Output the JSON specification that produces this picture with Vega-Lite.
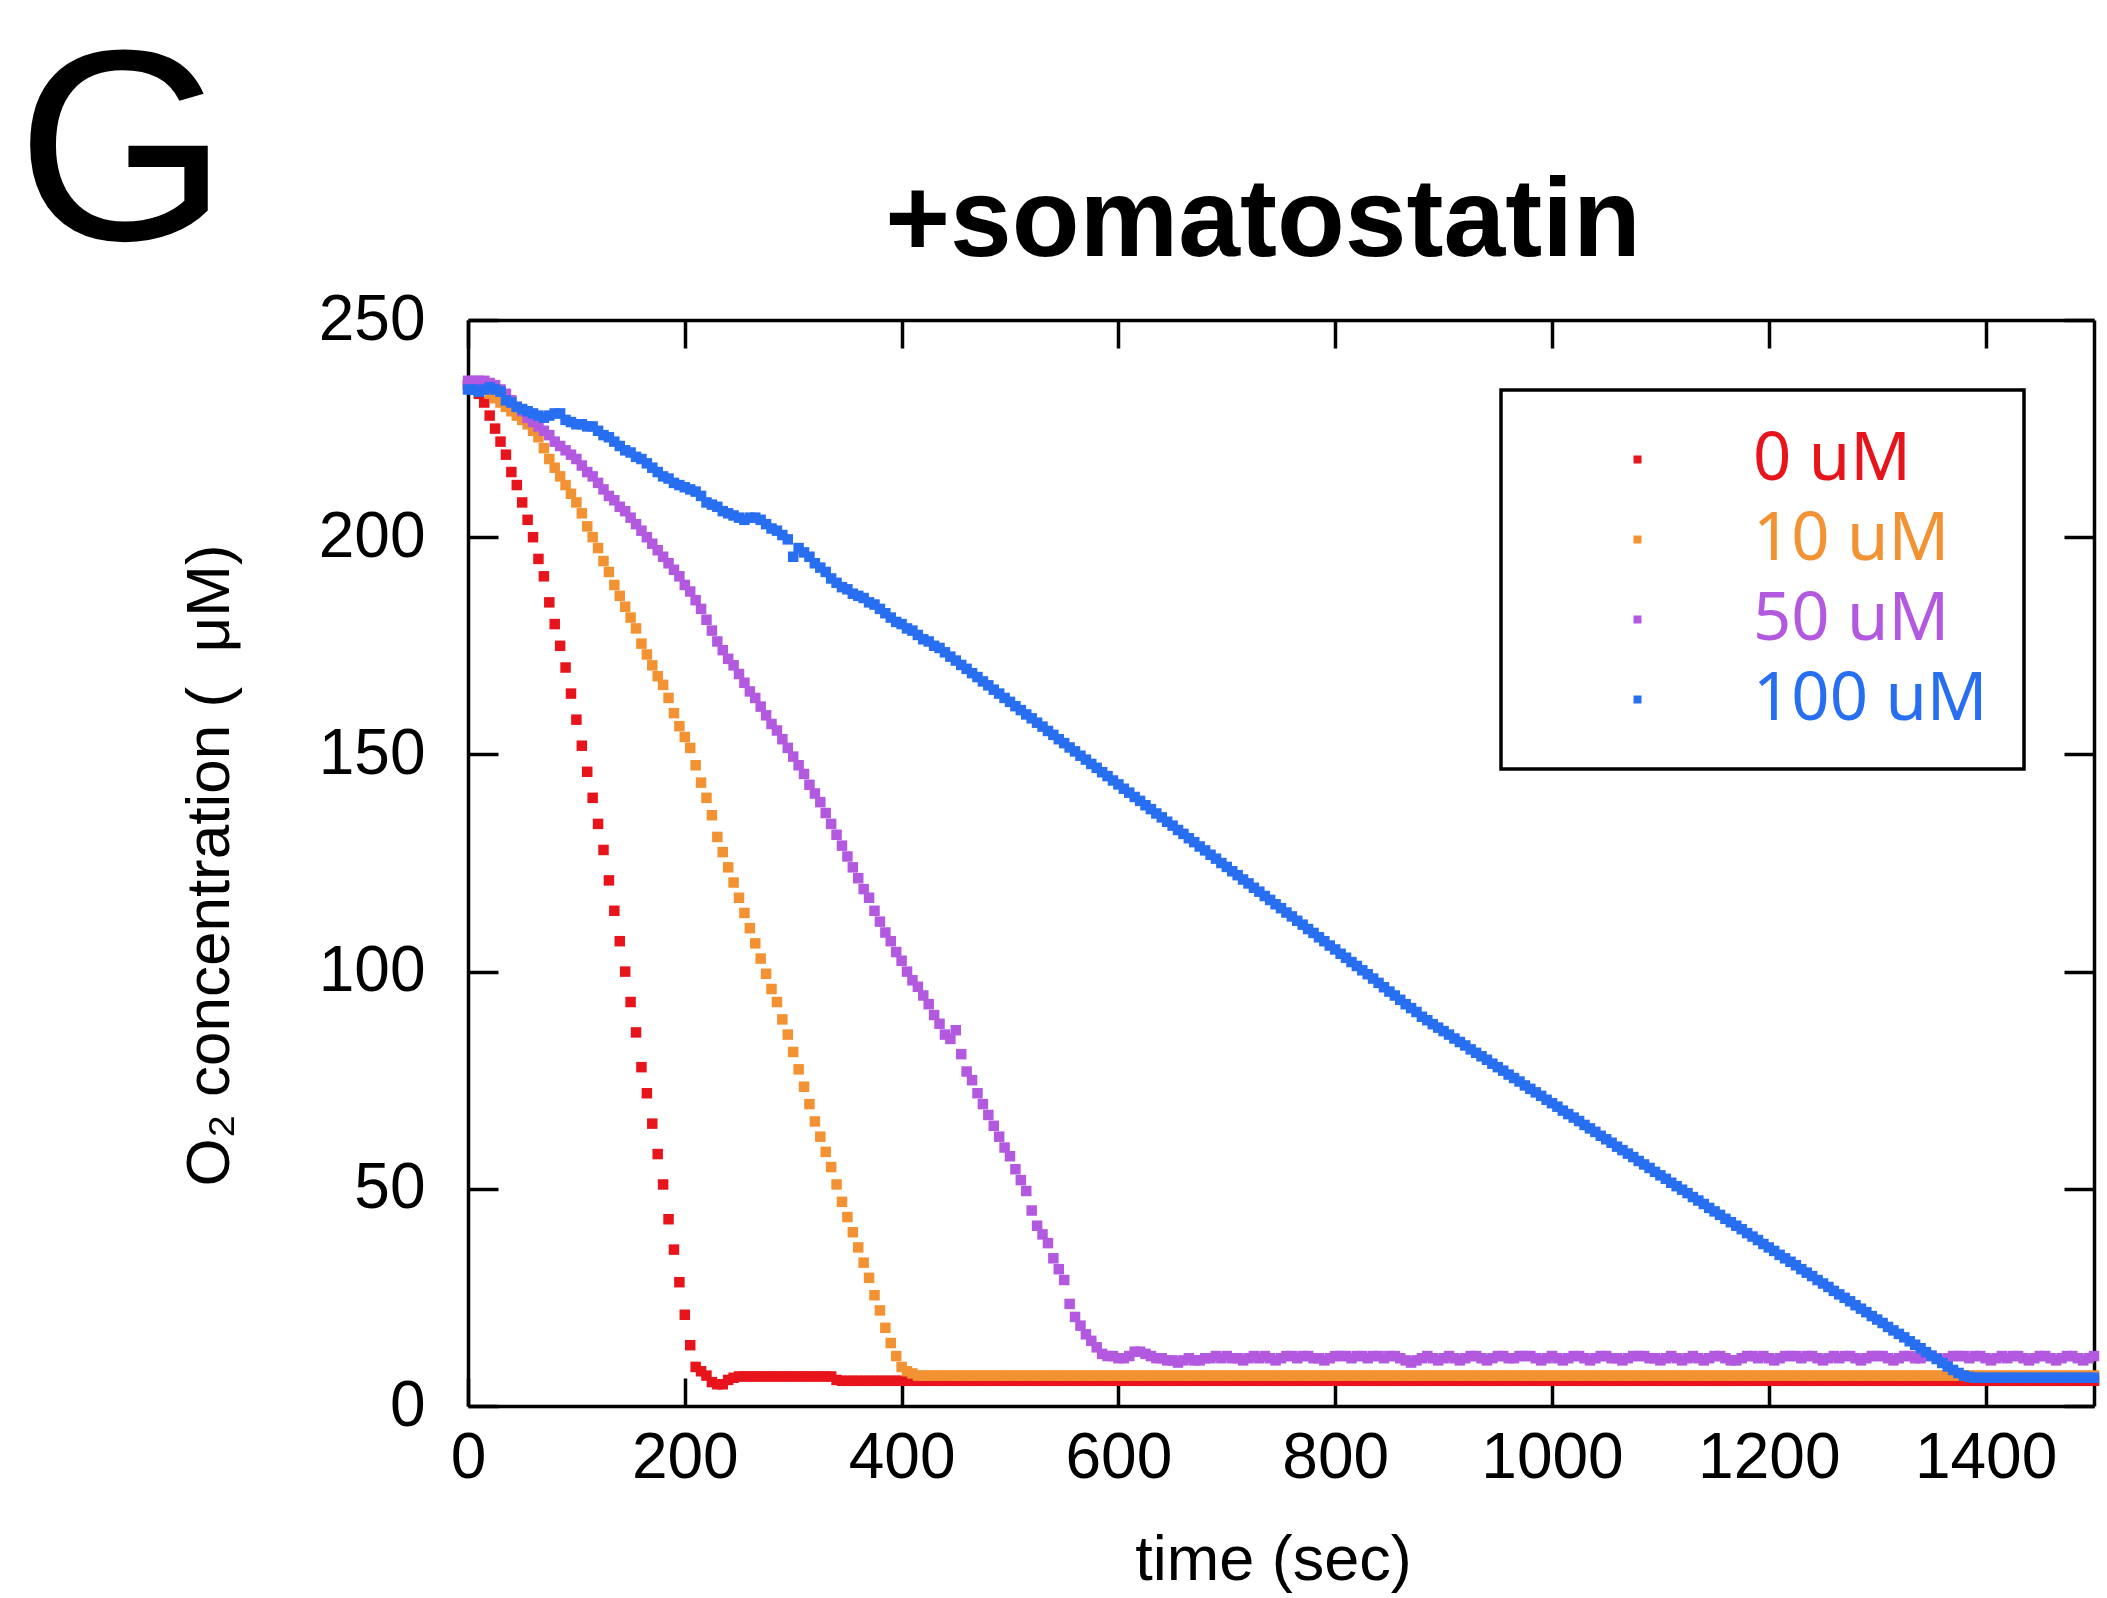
{
  "$schema": "https://vega.github.io/schema/vega-lite/v6.json",
  "width": 1626,
  "height": 1086,
  "autosize": {"type": "none"},
  "padding": {"left": 468, "top": 320, "right": 13, "bottom": 192},
  "background": "white",
  "config": {"view": {"stroke": null}, "axis": {"grid": false}},
  "title": {
    "text": "+somatostatin",
    "font": "Liberation Sans",
    "fontSize": 111,
    "fontWeight": "bold",
    "color": "#000",
    "anchor": "middle",
    "frame": "group",
    "dx": -18,
    "baseline": "alphabetic",
    "offset": -346
  },
  "datasets": {
    "zero": [
      {"t":0,"c":235},{"t":5,"c":234},{"t":10,"c":233},{"t":15,"c":231},{"t":20,"c":228},{"t":25,"c":225},{"t":30,"c":222},{"t":35,"c":219},{"t":40,"c":215},{"t":45,"c":212},
      {"t":50,"c":208},{"t":55,"c":204},{"t":60,"c":200},{"t":65,"c":195},{"t":70,"c":191},{"t":75,"c":185},{"t":80,"c":180},{"t":85,"c":175},{"t":90,"c":170},{"t":95,"c":164},
      {"t":100,"c":158},{"t":105,"c":152},{"t":110,"c":146},{"t":115,"c":140},{"t":120,"c":134},{"t":125,"c":128},{"t":130,"c":121},{"t":135,"c":114},{"t":140,"c":107},{"t":145,"c":100},
      {"t":150,"c":93},{"t":155,"c":86},{"t":160,"c":78},{"t":165,"c":72},{"t":170,"c":65},{"t":175,"c":58},{"t":180,"c":51},{"t":185,"c":43},{"t":190,"c":36},{"t":195,"c":28.5},
      {"t":200,"c":21},{"t":205,"c":14},{"t":210,"c":9},{"t":215,"c":8},{"t":220,"c":7},{"t":225,"c":5.5},{"t":230,"c":5},{"t":235,"c":5},{"t":240,"c":6},{"t":245,"c":6.5},
      {"t":250,"c":6.8},{"t":255,"c":6.8},{"t":260,"c":6.8},{"t":265,"c":6.8},{"t":270,"c":6.8},{"t":275,"c":6.8},{"t":280,"c":6.8},{"t":285,"c":6.8},{"t":290,"c":6.8},{"t":295,"c":6.8},
      {"t":300,"c":6.8},{"t":305,"c":6.8},{"t":310,"c":6.8},{"t":315,"c":6.8},{"t":320,"c":6.8},{"t":325,"c":6.8},{"t":330,"c":6.8},{"t":335,"c":6.8},{"t":340,"c":6},{"t":345,"c":5.8},
      {"t":350,"c":5.8},{"t":355,"c":5.8},{"t":360,"c":5.8},{"t":365,"c":5.8},{"t":370,"c":5.8},{"t":375,"c":5.8},{"t":380,"c":5.8},{"t":385,"c":5.8},{"t":390,"c":5.8},{"t":395,"c":5.8},
      {"t":400,"c":5.8},{"t":405,"c":5.8},{"t":410,"c":5.8},{"t":415,"c":5.8},{"t":420,"c":5.8},{"t":425,"c":5.8},{"t":430,"c":5.8},{"t":435,"c":5.8},{"t":440,"c":5.8},{"t":445,"c":5.8},
      {"t":450,"c":5.8},{"t":455,"c":5.8},{"t":460,"c":5.8},{"t":465,"c":5.8},{"t":470,"c":5.8},{"t":475,"c":5.8},{"t":480,"c":5.8},{"t":485,"c":5.8},{"t":490,"c":5.8},{"t":495,"c":5.8},
      {"t":500,"c":5.8},{"t":505,"c":5.8},{"t":510,"c":5.8},{"t":515,"c":5.8},{"t":520,"c":5.8},{"t":525,"c":5.8},{"t":530,"c":5.8},{"t":535,"c":5.8},{"t":540,"c":5.8},{"t":545,"c":5.8},
      {"t":550,"c":5.8},{"t":555,"c":5.8},{"t":560,"c":5.8},{"t":565,"c":5.8},{"t":570,"c":5.8},{"t":575,"c":5.8},{"t":580,"c":5.8},{"t":585,"c":5.8},{"t":590,"c":5.8},{"t":595,"c":5.8},
      {"t":600,"c":5.8},{"t":605,"c":5.8},{"t":610,"c":5.8},{"t":615,"c":5.8},{"t":620,"c":5.8},{"t":625,"c":5.8},{"t":630,"c":5.8},{"t":635,"c":5.8},{"t":640,"c":5.8},{"t":645,"c":5.8},
      {"t":650,"c":5.8},{"t":655,"c":5.8},{"t":660,"c":5.8},{"t":665,"c":5.8},{"t":670,"c":5.8},{"t":675,"c":5.8},{"t":680,"c":5.8},{"t":685,"c":5.8},{"t":690,"c":5.8},{"t":695,"c":5.8},
      {"t":700,"c":5.8},{"t":705,"c":5.8},{"t":710,"c":5.8},{"t":715,"c":5.8},{"t":720,"c":5.8},{"t":725,"c":5.8},{"t":730,"c":5.8},{"t":735,"c":5.8},{"t":740,"c":5.8},{"t":745,"c":5.8},
      {"t":750,"c":5.8},{"t":755,"c":5.8},{"t":760,"c":5.8},{"t":765,"c":5.8},{"t":770,"c":5.8},{"t":775,"c":5.8},{"t":780,"c":5.8},{"t":785,"c":5.8},{"t":790,"c":5.8},{"t":795,"c":5.8},
      {"t":800,"c":5.8},{"t":805,"c":5.8},{"t":810,"c":5.8},{"t":815,"c":5.8},{"t":820,"c":5.8},{"t":825,"c":5.8},{"t":830,"c":5.8},{"t":835,"c":5.8},{"t":840,"c":5.8},{"t":845,"c":5.8},
      {"t":850,"c":5.8},{"t":855,"c":5.8},{"t":860,"c":5.8},{"t":865,"c":5.8},{"t":870,"c":5.8},{"t":875,"c":5.8},{"t":880,"c":5.8},{"t":885,"c":5.8},{"t":890,"c":5.8},{"t":895,"c":5.8},
      {"t":900,"c":5.8},{"t":905,"c":5.8},{"t":910,"c":5.8},{"t":915,"c":5.8},{"t":920,"c":5.8},{"t":925,"c":5.8},{"t":930,"c":5.8},{"t":935,"c":5.8},{"t":940,"c":5.8},{"t":945,"c":5.8},
      {"t":950,"c":5.8},{"t":955,"c":5.8},{"t":960,"c":5.8},{"t":965,"c":5.8},{"t":970,"c":5.8},{"t":975,"c":5.8},{"t":980,"c":5.8},{"t":985,"c":5.8},{"t":990,"c":5.8},{"t":995,"c":5.8},
      {"t":1000,"c":5.8},{"t":1005,"c":5.8},{"t":1010,"c":5.8},{"t":1015,"c":5.8},{"t":1020,"c":5.8},{"t":1025,"c":5.8},{"t":1030,"c":5.8},{"t":1035,"c":5.8},{"t":1040,"c":5.8},{"t":1045,"c":5.8},
      {"t":1050,"c":5.8},{"t":1055,"c":5.8},{"t":1060,"c":5.8},{"t":1065,"c":5.8},{"t":1070,"c":5.8},{"t":1075,"c":5.8},{"t":1080,"c":5.8},{"t":1085,"c":5.8},{"t":1090,"c":5.8},{"t":1095,"c":5.8},
      {"t":1100,"c":5.8},{"t":1105,"c":5.8},{"t":1110,"c":5.8},{"t":1115,"c":5.8},{"t":1120,"c":5.8},{"t":1125,"c":5.8},{"t":1130,"c":5.8},{"t":1135,"c":5.8},{"t":1140,"c":5.8},{"t":1145,"c":5.8},
      {"t":1150,"c":5.8},{"t":1155,"c":5.8},{"t":1160,"c":5.8},{"t":1165,"c":5.8},{"t":1170,"c":5.8},{"t":1175,"c":5.8},{"t":1180,"c":5.8},{"t":1185,"c":5.8},{"t":1190,"c":5.8},{"t":1195,"c":5.8},
      {"t":1200,"c":5.8},{"t":1205,"c":5.8},{"t":1210,"c":5.8},{"t":1215,"c":5.8},{"t":1220,"c":5.8},{"t":1225,"c":5.8},{"t":1230,"c":5.8},{"t":1235,"c":5.8},{"t":1240,"c":5.8},{"t":1245,"c":5.8},
      {"t":1250,"c":5.8},{"t":1255,"c":5.8},{"t":1260,"c":5.8},{"t":1265,"c":5.8},{"t":1270,"c":5.8},{"t":1275,"c":5.8},{"t":1280,"c":5.8},{"t":1285,"c":5.8},{"t":1290,"c":5.8},{"t":1295,"c":5.8},
      {"t":1300,"c":5.8},{"t":1305,"c":5.8},{"t":1310,"c":5.8},{"t":1315,"c":5.8},{"t":1320,"c":5.8},{"t":1325,"c":5.8},{"t":1330,"c":5.8},{"t":1335,"c":5.8},{"t":1340,"c":5.8},{"t":1345,"c":5.8},
      {"t":1350,"c":5.8},{"t":1355,"c":5.8},{"t":1360,"c":5.8},{"t":1365,"c":5.8},{"t":1370,"c":5.8},{"t":1375,"c":5.8},{"t":1380,"c":5.8},{"t":1385,"c":5.8},{"t":1390,"c":5.8},{"t":1395,"c":5.8},
      {"t":1400,"c":5.8},{"t":1405,"c":5.8},{"t":1410,"c":5.8},{"t":1415,"c":5.8},{"t":1420,"c":5.8},{"t":1425,"c":5.8},{"t":1430,"c":5.8},{"t":1435,"c":5.8},{"t":1440,"c":5.8},{"t":1445,"c":5.8},
      {"t":1450,"c":5.8},{"t":1455,"c":5.8},{"t":1460,"c":5.8},{"t":1465,"c":5.8},{"t":1470,"c":5.8},{"t":1475,"c":5.8},{"t":1480,"c":5.8},{"t":1485,"c":5.8},{"t":1490,"c":5.8},{"t":1495,"c":5.8},
      {"t":1500,"c":5.8}
    ],
    "ten": [
      {"t":0,"c":235},{"t":5,"c":235},{"t":10,"c":234},{"t":15,"c":234},{"t":20,"c":233},{"t":25,"c":232},{"t":30,"c":231},{"t":35,"c":230},{"t":40,"c":229},{"t":45,"c":228},
      {"t":50,"c":227},{"t":55,"c":226},{"t":60,"c":224.5},{"t":65,"c":223},{"t":70,"c":220.5},{"t":75,"c":218},{"t":80,"c":216},{"t":85,"c":214},{"t":90,"c":212},{"t":95,"c":210},
      {"t":100,"c":208},{"t":105,"c":205.5},{"t":110,"c":202.5},{"t":115,"c":200},{"t":120,"c":197.5},{"t":125,"c":194.5},{"t":130,"c":192},{"t":135,"c":189},{"t":140,"c":186.5},{"t":145,"c":184},
      {"t":150,"c":181.5},{"t":155,"c":179},{"t":160,"c":175.5},{"t":165,"c":173},{"t":170,"c":170.5},{"t":175,"c":168},{"t":180,"c":166},{"t":185,"c":163},{"t":190,"c":159.5},{"t":195,"c":156.5},
      {"t":200,"c":154},{"t":205,"c":151.5},{"t":210,"c":147.5},{"t":215,"c":143.5},{"t":220,"c":140},{"t":225,"c":136},{"t":230,"c":131},{"t":235,"c":127.5},{"t":240,"c":124},{"t":245,"c":120.5},
      {"t":250,"c":117},{"t":255,"c":113.5},{"t":260,"c":110},{"t":265,"c":106.5},{"t":270,"c":103},{"t":275,"c":99.5},{"t":280,"c":96},{"t":285,"c":93},{"t":290,"c":89},{"t":295,"c":85.5},
      {"t":300,"c":81.5},{"t":305,"c":77.5},{"t":310,"c":73.5},{"t":315,"c":69.5},{"t":320,"c":65.5},{"t":325,"c":62},{"t":330,"c":58.5},{"t":335,"c":55},{"t":340,"c":51},{"t":345,"c":47},
      {"t":350,"c":43.5},{"t":355,"c":40},{"t":360,"c":36.5},{"t":365,"c":33},{"t":370,"c":29.5},{"t":375,"c":25.5},{"t":380,"c":22},{"t":385,"c":18},{"t":390,"c":14.5},{"t":395,"c":11.5},
      {"t":400,"c":9},{"t":405,"c":8},{"t":410,"c":7.5},{"t":415,"c":7},{"t":420,"c":7},{"t":425,"c":7},{"t":430,"c":7},{"t":435,"c":7},{"t":440,"c":7},{"t":445,"c":7},
      {"t":450,"c":7},{"t":455,"c":7},{"t":460,"c":7},{"t":465,"c":7},{"t":470,"c":7},{"t":475,"c":7},{"t":480,"c":7},{"t":485,"c":7},{"t":490,"c":7},{"t":495,"c":7},
      {"t":500,"c":7},{"t":505,"c":7},{"t":510,"c":7},{"t":515,"c":7},{"t":520,"c":7},{"t":525,"c":7},{"t":530,"c":7},{"t":535,"c":7},{"t":540,"c":7},{"t":545,"c":7},
      {"t":550,"c":7},{"t":555,"c":7},{"t":560,"c":7},{"t":565,"c":7},{"t":570,"c":7},{"t":575,"c":7},{"t":580,"c":7},{"t":585,"c":7},{"t":590,"c":7},{"t":595,"c":7},
      {"t":600,"c":7},{"t":605,"c":7},{"t":610,"c":7},{"t":615,"c":7},{"t":620,"c":7},{"t":625,"c":7},{"t":630,"c":7},{"t":635,"c":7},{"t":640,"c":7},{"t":645,"c":7},
      {"t":650,"c":7},{"t":655,"c":7},{"t":660,"c":7},{"t":665,"c":7},{"t":670,"c":7},{"t":675,"c":7},{"t":680,"c":7},{"t":685,"c":7},{"t":690,"c":7},{"t":695,"c":7},
      {"t":700,"c":7},{"t":705,"c":7},{"t":710,"c":7},{"t":715,"c":7},{"t":720,"c":7},{"t":725,"c":7},{"t":730,"c":7},{"t":735,"c":7},{"t":740,"c":7},{"t":745,"c":7},
      {"t":750,"c":7},{"t":755,"c":7},{"t":760,"c":7},{"t":765,"c":7},{"t":770,"c":7},{"t":775,"c":7},{"t":780,"c":7},{"t":785,"c":7},{"t":790,"c":7},{"t":795,"c":7},
      {"t":800,"c":7},{"t":805,"c":7},{"t":810,"c":7},{"t":815,"c":7},{"t":820,"c":7},{"t":825,"c":7},{"t":830,"c":7},{"t":835,"c":7},{"t":840,"c":7},{"t":845,"c":7},
      {"t":850,"c":7},{"t":855,"c":7},{"t":860,"c":7},{"t":865,"c":7},{"t":870,"c":7},{"t":875,"c":7},{"t":880,"c":7},{"t":885,"c":7},{"t":890,"c":7},{"t":895,"c":7},
      {"t":900,"c":7},{"t":905,"c":7},{"t":910,"c":7},{"t":915,"c":7},{"t":920,"c":7},{"t":925,"c":7},{"t":930,"c":7},{"t":935,"c":7},{"t":940,"c":7},{"t":945,"c":7},
      {"t":950,"c":7},{"t":955,"c":7},{"t":960,"c":7},{"t":965,"c":7},{"t":970,"c":7},{"t":975,"c":7},{"t":980,"c":7},{"t":985,"c":7},{"t":990,"c":7},{"t":995,"c":7},
      {"t":1000,"c":7},{"t":1005,"c":7},{"t":1010,"c":7},{"t":1015,"c":7},{"t":1020,"c":7},{"t":1025,"c":7},{"t":1030,"c":7},{"t":1035,"c":7},{"t":1040,"c":7},{"t":1045,"c":7},
      {"t":1050,"c":7},{"t":1055,"c":7},{"t":1060,"c":7},{"t":1065,"c":7},{"t":1070,"c":7},{"t":1075,"c":7},{"t":1080,"c":7},{"t":1085,"c":7},{"t":1090,"c":7},{"t":1095,"c":7},
      {"t":1100,"c":7},{"t":1105,"c":7},{"t":1110,"c":7},{"t":1115,"c":7},{"t":1120,"c":7},{"t":1125,"c":7},{"t":1130,"c":7},{"t":1135,"c":7},{"t":1140,"c":7},{"t":1145,"c":7},
      {"t":1150,"c":7},{"t":1155,"c":7},{"t":1160,"c":7},{"t":1165,"c":7},{"t":1170,"c":7},{"t":1175,"c":7},{"t":1180,"c":7},{"t":1185,"c":7},{"t":1190,"c":7},{"t":1195,"c":7},
      {"t":1200,"c":7},{"t":1205,"c":7},{"t":1210,"c":7},{"t":1215,"c":7},{"t":1220,"c":7},{"t":1225,"c":7},{"t":1230,"c":7},{"t":1235,"c":7},{"t":1240,"c":7},{"t":1245,"c":7},
      {"t":1250,"c":7},{"t":1255,"c":7},{"t":1260,"c":7},{"t":1265,"c":7},{"t":1270,"c":7},{"t":1275,"c":7},{"t":1280,"c":7},{"t":1285,"c":7},{"t":1290,"c":7},{"t":1295,"c":7},
      {"t":1300,"c":7},{"t":1305,"c":7},{"t":1310,"c":7},{"t":1315,"c":7},{"t":1320,"c":7},{"t":1325,"c":7},{"t":1330,"c":7},{"t":1335,"c":7},{"t":1340,"c":7},{"t":1345,"c":7},
      {"t":1350,"c":7},{"t":1355,"c":7},{"t":1360,"c":7},{"t":1365,"c":7},{"t":1370,"c":7},{"t":1375,"c":7},{"t":1380,"c":7},{"t":1385,"c":7},{"t":1390,"c":7},{"t":1395,"c":7},
      {"t":1400,"c":7},{"t":1405,"c":7},{"t":1410,"c":7},{"t":1415,"c":7},{"t":1420,"c":7},{"t":1425,"c":7},{"t":1430,"c":7},{"t":1435,"c":7},{"t":1440,"c":7},{"t":1445,"c":7},
      {"t":1450,"c":7},{"t":1455,"c":7},{"t":1460,"c":7},{"t":1465,"c":7},{"t":1470,"c":7},{"t":1475,"c":7},{"t":1480,"c":7},{"t":1485,"c":7},{"t":1490,"c":7},{"t":1495,"c":7},
      {"t":1500,"c":7}
    ],
    "fifty": [
      {"t":0,"c":236},{"t":5,"c":236},{"t":10,"c":236},{"t":15,"c":236},{"t":20,"c":235.5},{"t":25,"c":235},{"t":30,"c":234},{"t":35,"c":233},{"t":40,"c":231.5},{"t":45,"c":230},
      {"t":50,"c":229},{"t":55,"c":227.5},{"t":60,"c":226.5},{"t":65,"c":225.5},{"t":70,"c":224.5},{"t":75,"c":223.5},{"t":80,"c":222},{"t":85,"c":221},{"t":90,"c":220},{"t":95,"c":219},
      {"t":100,"c":218},{"t":105,"c":216.5},{"t":110,"c":215},{"t":115,"c":214},{"t":120,"c":212.5},{"t":125,"c":211},{"t":130,"c":209.5},{"t":135,"c":208.5},{"t":140,"c":207},{"t":145,"c":206},
      {"t":150,"c":204.5},{"t":155,"c":203},{"t":160,"c":201.5},{"t":165,"c":200},{"t":170,"c":198.5},{"t":175,"c":197},{"t":180,"c":195.5},{"t":185,"c":194},{"t":190,"c":192.5},{"t":195,"c":191},
      {"t":200,"c":189},{"t":205,"c":187.5},{"t":210,"c":185.5},{"t":215,"c":183.5},{"t":220,"c":181},{"t":225,"c":178.5},{"t":230,"c":176},{"t":235,"c":174},{"t":240,"c":172},{"t":245,"c":170.5},
      {"t":250,"c":168.5},{"t":255,"c":166.5},{"t":260,"c":164.5},{"t":265,"c":163},{"t":270,"c":161},{"t":275,"c":159},{"t":280,"c":157},{"t":285,"c":155.5},{"t":290,"c":153.5},{"t":295,"c":151.5},
      {"t":300,"c":149.5},{"t":305,"c":147.5},{"t":310,"c":145.5},{"t":315,"c":143},{"t":320,"c":141},{"t":325,"c":139},{"t":330,"c":136.5},{"t":335,"c":134},{"t":340,"c":131.5},{"t":345,"c":129},
      {"t":350,"c":126.5},{"t":355,"c":124},{"t":360,"c":121.5},{"t":365,"c":119},{"t":370,"c":117},{"t":375,"c":114},{"t":380,"c":111.5},{"t":385,"c":109},{"t":390,"c":107},{"t":395,"c":104.5},
      {"t":400,"c":102.5},{"t":405,"c":100},{"t":410,"c":98},{"t":415,"c":96.5},{"t":420,"c":94.5},{"t":425,"c":92.5},{"t":430,"c":90},{"t":435,"c":88},{"t":440,"c":85.5},{"t":445,"c":84.5},
      {"t":450,"c":86.5},{"t":455,"c":81},{"t":460,"c":77},{"t":465,"c":75},{"t":470,"c":72},{"t":475,"c":69.5},{"t":480,"c":67},{"t":485,"c":64.5},{"t":490,"c":62},{"t":495,"c":59.5},
      {"t":500,"c":57.5},{"t":505,"c":54.5},{"t":510,"c":52},{"t":515,"c":49.5},{"t":520,"c":45},{"t":525,"c":41.5},{"t":530,"c":39.5},{"t":535,"c":37.5},{"t":540,"c":34},{"t":545,"c":31.5},
      {"t":550,"c":29},{"t":555,"c":23.5},{"t":560,"c":20.5},{"t":565,"c":18.5},{"t":570,"c":16.5},{"t":575,"c":15},{"t":580,"c":13.5},{"t":585,"c":12},{"t":590,"c":11.5},{"t":595,"c":11.5},
      {"t":600,"c":11},{"t":605,"c":11},{"t":610,"c":11.5},{"t":615,"c":12.5},{"t":620,"c":12.5},{"t":625,"c":12},{"t":630,"c":11.5},{"t":635,"c":11},{"t":640,"c":11},{"t":645,"c":10.5},
      {"t":650,"c":10.5},{"t":655,"c":10},{"t":660,"c":10.5},{"t":665,"c":11},{"t":670,"c":10.5},{"t":675,"c":10.5},{"t":680,"c":11},{"t":685,"c":11},{"t":690,"c":11.5},{"t":695,"c":11},
      {"t":700,"c":11.5},{"t":705,"c":11},{"t":710,"c":11},{"t":715,"c":10.5},{"t":720,"c":11},{"t":725,"c":11.5},{"t":730,"c":11},{"t":735,"c":11.5},{"t":740,"c":11},{"t":745,"c":10.5},
      {"t":750,"c":11},{"t":755,"c":11.5},{"t":760,"c":11.5},{"t":765,"c":11},{"t":770,"c":11.5},{"t":775,"c":11.5},{"t":780,"c":11},{"t":785,"c":11},{"t":790,"c":10.5},{"t":795,"c":11},
      {"t":800,"c":11.5},{"t":805,"c":11.5},{"t":810,"c":11.5},{"t":815,"c":11},{"t":820,"c":11.5},{"t":825,"c":11.5},{"t":830,"c":11},{"t":835,"c":11.5},{"t":840,"c":11.5},{"t":845,"c":11},
      {"t":850,"c":11.5},{"t":855,"c":11.5},{"t":860,"c":11},{"t":865,"c":10.5},{"t":870,"c":10},{"t":875,"c":10.5},{"t":880,"c":11},{"t":885,"c":11.5},{"t":890,"c":11},{"t":895,"c":10.5},
      {"t":900,"c":11},{"t":905,"c":11.5},{"t":910,"c":11},{"t":915,"c":10.5},{"t":920,"c":11},{"t":925,"c":11.5},{"t":930,"c":11.5},{"t":935,"c":11},{"t":940,"c":10.5},{"t":945,"c":11},
      {"t":950,"c":11.5},{"t":955,"c":11.5},{"t":960,"c":11},{"t":965,"c":11},{"t":970,"c":11.5},{"t":975,"c":11.5},{"t":980,"c":11.5},{"t":985,"c":11},{"t":990,"c":10.5},{"t":995,"c":11},
      {"t":1000,"c":11.5},{"t":1005,"c":11},{"t":1010,"c":10.5},{"t":1015,"c":11},{"t":1020,"c":11.5},{"t":1025,"c":11.5},{"t":1030,"c":11},{"t":1035,"c":10.5},{"t":1040,"c":11},{"t":1045,"c":11.5},
      {"t":1050,"c":11.5},{"t":1055,"c":11},{"t":1060,"c":11},{"t":1065,"c":10.5},{"t":1070,"c":11},{"t":1075,"c":11.5},{"t":1080,"c":11.5},{"t":1085,"c":11.5},{"t":1090,"c":11},{"t":1095,"c":11},
      {"t":1100,"c":10.5},{"t":1105,"c":11},{"t":1110,"c":11.5},{"t":1115,"c":11},{"t":1120,"c":10.5},{"t":1125,"c":11},{"t":1130,"c":11.5},{"t":1135,"c":11},{"t":1140,"c":10.5},{"t":1145,"c":11},
      {"t":1150,"c":11.5},{"t":1155,"c":11.5},{"t":1160,"c":11},{"t":1165,"c":10.5},{"t":1170,"c":10.5},{"t":1175,"c":11},{"t":1180,"c":11.5},{"t":1185,"c":11.5},{"t":1190,"c":11},{"t":1195,"c":11.5},
      {"t":1200,"c":11},{"t":1205,"c":10.5},{"t":1210,"c":11},{"t":1215,"c":11.5},{"t":1220,"c":11.5},{"t":1225,"c":11.5},{"t":1230,"c":11},{"t":1235,"c":11.5},{"t":1240,"c":11.5},{"t":1245,"c":11},
      {"t":1250,"c":10.5},{"t":1255,"c":11},{"t":1260,"c":11.5},{"t":1265,"c":11},{"t":1270,"c":11.5},{"t":1275,"c":11.5},{"t":1280,"c":11},{"t":1285,"c":10.5},{"t":1290,"c":11},{"t":1295,"c":11.5},
      {"t":1300,"c":11.5},{"t":1305,"c":11.5},{"t":1310,"c":11},{"t":1315,"c":10.5},{"t":1320,"c":11},{"t":1325,"c":11.5},{"t":1330,"c":11.5},{"t":1335,"c":11},{"t":1340,"c":11},{"t":1345,"c":11.5},
      {"t":1350,"c":11.5},{"t":1355,"c":11},{"t":1360,"c":10.5},{"t":1365,"c":11},{"t":1370,"c":11.5},{"t":1375,"c":11.5},{"t":1380,"c":11.5},{"t":1385,"c":11},{"t":1390,"c":11.5},{"t":1395,"c":11.5},
      {"t":1400,"c":11},{"t":1405,"c":10.5},{"t":1410,"c":11},{"t":1415,"c":11.5},{"t":1420,"c":11},{"t":1425,"c":11.5},{"t":1430,"c":11.5},{"t":1435,"c":11},{"t":1440,"c":10.5},{"t":1445,"c":11},
      {"t":1450,"c":11.5},{"t":1455,"c":11.5},{"t":1460,"c":11},{"t":1465,"c":10.5},{"t":1470,"c":11},{"t":1475,"c":11.5},{"t":1480,"c":11.5},{"t":1485,"c":11},{"t":1490,"c":10.5},{"t":1495,"c":11},
      {"t":1500,"c":11.5}
    ],
    "hundred": [
      {"t":0,"c":234},{"t":5,"c":234},{"t":10,"c":233.5},{"t":15,"c":234},{"t":20,"c":234.5},{"t":25,"c":234},{"t":30,"c":233.5},{"t":35,"c":231.5},{"t":40,"c":231},{"t":45,"c":230},
      {"t":50,"c":229.5},{"t":55,"c":229},{"t":60,"c":228.5},{"t":65,"c":228},{"t":70,"c":227.5},{"t":75,"c":228},{"t":80,"c":228.5},{"t":85,"c":228.5},{"t":90,"c":227},{"t":95,"c":226.5},
      {"t":100,"c":226},{"t":105,"c":226},{"t":110,"c":225.5},{"t":115,"c":225.5},{"t":120,"c":224.5},{"t":125,"c":223.5},{"t":130,"c":223},{"t":135,"c":222},{"t":140,"c":221},{"t":145,"c":220},
      {"t":150,"c":219.5},{"t":155,"c":218.5},{"t":160,"c":218},{"t":165,"c":217},{"t":170,"c":216},{"t":175,"c":215},{"t":180,"c":214},{"t":185,"c":213.5},{"t":190,"c":212.5},{"t":195,"c":212},
      {"t":200,"c":211.5},{"t":205,"c":211},{"t":210,"c":210.5},{"t":215,"c":209.5},{"t":220,"c":208},{"t":225,"c":207.5},{"t":230,"c":207},{"t":235,"c":206},{"t":240,"c":205.5},{"t":245,"c":205},
      {"t":250,"c":204.5},{"t":255,"c":204},{"t":260,"c":204.5},{"t":265,"c":204.5},{"t":270,"c":204},{"t":275,"c":203},{"t":280,"c":202},{"t":285,"c":201.5},{"t":290,"c":200.5},{"t":295,"c":199.5},
      {"t":300,"c":195.5},{"t":305,"c":197.5},{"t":310,"c":196.5},{"t":315,"c":195.5},{"t":320,"c":194},{"t":325,"c":193},{"t":330,"c":192},{"t":335,"c":190.5},{"t":340,"c":189.5},{"t":345,"c":188.5},
      {"t":350,"c":188},{"t":355,"c":187},{"t":360,"c":186.5},{"t":365,"c":186},{"t":370,"c":185},{"t":375,"c":184.5},{"t":380,"c":183.5},{"t":385,"c":182.5},{"t":390,"c":181.5},{"t":395,"c":180.5},
      {"t":400,"c":180},{"t":405,"c":179},{"t":410,"c":178.5},{"t":415,"c":177.5},{"t":420,"c":176.5},{"t":425,"c":176},{"t":430,"c":175},{"t":435,"c":174.5},{"t":440,"c":173.5},{"t":445,"c":172.5},
      {"t":450,"c":171.6},{"t":455,"c":170.6},{"t":460,"c":169.7},{"t":465,"c":168.7},{"t":470,"c":167.8},{"t":475,"c":166.8},{"t":480,"c":165.9},{"t":485,"c":164.9},{"t":490,"c":164},{"t":495,"c":163},
      {"t":500,"c":162.1},{"t":505,"c":161.1},{"t":510,"c":160.2},{"t":515,"c":159.2},{"t":520,"c":158.3},{"t":525,"c":157.3},{"t":530,"c":156.4},{"t":535,"c":155.4},{"t":540,"c":154.5},{"t":545,"c":153.5},
      {"t":550,"c":152.6},{"t":555,"c":151.6},{"t":560,"c":150.7},{"t":565,"c":149.7},{"t":570,"c":148.8},{"t":575,"c":147.8},{"t":580,"c":146.9},{"t":585,"c":145.9},{"t":590,"c":145},{"t":595,"c":144},
      {"t":600,"c":143.1},{"t":605,"c":142.1},{"t":610,"c":141.2},{"t":615,"c":140.2},{"t":620,"c":139.3},{"t":625,"c":138.3},{"t":630,"c":137.4},{"t":635,"c":136.4},{"t":640,"c":135.5},{"t":645,"c":134.5},
      {"t":650,"c":133.6},{"t":655,"c":132.6},{"t":660,"c":131.7},{"t":665,"c":130.7},{"t":670,"c":129.8},{"t":675,"c":128.8},{"t":680,"c":127.9},{"t":685,"c":126.9},{"t":690,"c":126},{"t":695,"c":125},
      {"t":700,"c":124.1},{"t":705,"c":123.1},{"t":710,"c":122.2},{"t":715,"c":121.2},{"t":720,"c":120.3},{"t":725,"c":119.3},{"t":730,"c":118.4},{"t":735,"c":117.4},{"t":740,"c":116.5},{"t":745,"c":115.5},
      {"t":750,"c":114.6},{"t":755,"c":113.6},{"t":760,"c":112.7},{"t":765,"c":111.7},{"t":770,"c":110.8},{"t":775,"c":109.8},{"t":780,"c":108.9},{"t":785,"c":107.9},{"t":790,"c":107},{"t":795,"c":106},
      {"t":800,"c":105.1},{"t":805,"c":104.1},{"t":810,"c":103.2},{"t":815,"c":102.2},{"t":820,"c":101.3},{"t":825,"c":100.3},{"t":830,"c":99.4},{"t":835,"c":98.4},{"t":840,"c":97.4},{"t":845,"c":96.4},
      {"t":850,"c":95.4},{"t":855,"c":94.5},{"t":860,"c":93.5},{"t":865,"c":92.5},{"t":870,"c":91.6},{"t":875,"c":90.7},{"t":880,"c":89.6},{"t":885,"c":88.8},{"t":890,"c":87.9},{"t":895,"c":87.1},
      {"t":900,"c":86.3},{"t":905,"c":85.5},{"t":910,"c":84.6},{"t":915,"c":83.8},{"t":920,"c":83},{"t":925,"c":82.1},{"t":930,"c":81.3},{"t":935,"c":80.5},{"t":940,"c":79.7},{"t":945,"c":78.8},
      {"t":950,"c":78},{"t":955,"c":77.2},{"t":960,"c":76.3},{"t":965,"c":75.5},{"t":970,"c":74.7},{"t":975,"c":73.8},{"t":980,"c":73},{"t":985,"c":72.2},{"t":990,"c":71.4},{"t":995,"c":70.5},
      {"t":1000,"c":69.7},{"t":1005,"c":68.9},{"t":1010,"c":68},{"t":1015,"c":67.2},{"t":1020,"c":66.4},{"t":1025,"c":65.6},{"t":1030,"c":64.7},{"t":1035,"c":63.9},{"t":1040,"c":63.1},{"t":1045,"c":62.2},
      {"t":1050,"c":61.4},{"t":1055,"c":60.6},{"t":1060,"c":59.7},{"t":1065,"c":58.9},{"t":1070,"c":58.1},{"t":1075,"c":57.3},{"t":1080,"c":56.4},{"t":1085,"c":55.6},{"t":1090,"c":54.8},{"t":1095,"c":53.9},
      {"t":1100,"c":53.1},{"t":1105,"c":52.3},{"t":1110,"c":51.4},{"t":1115,"c":50.6},{"t":1120,"c":49.8},{"t":1125,"c":49},{"t":1130,"c":48.1},{"t":1135,"c":47.3},{"t":1140,"c":46.5},{"t":1145,"c":45.6},
      {"t":1150,"c":44.8},{"t":1155,"c":44},{"t":1160,"c":43.1},{"t":1165,"c":42.3},{"t":1170,"c":41.5},{"t":1175,"c":40.7},{"t":1180,"c":39.8},{"t":1185,"c":39},{"t":1190,"c":38.2},{"t":1195,"c":37.3},
      {"t":1200,"c":36.5},{"t":1205,"c":35.7},{"t":1210,"c":34.8},{"t":1215,"c":34},{"t":1220,"c":33.2},{"t":1225,"c":32.4},{"t":1230,"c":31.5},{"t":1235,"c":30.7},{"t":1240,"c":29.9},{"t":1245,"c":29},
      {"t":1250,"c":28.2},{"t":1255,"c":27.4},{"t":1260,"c":26.5},{"t":1265,"c":25.7},{"t":1270,"c":24.9},{"t":1275,"c":24.1},{"t":1280,"c":23.2},{"t":1285,"c":22.4},{"t":1290,"c":21.6},{"t":1295,"c":20.7},
      {"t":1300,"c":19.9},{"t":1305,"c":19.1},{"t":1310,"c":18.2},{"t":1315,"c":17.4},{"t":1320,"c":16.6},{"t":1325,"c":15.8},{"t":1330,"c":14.9},{"t":1335,"c":14.1},{"t":1340,"c":13.3},{"t":1345,"c":12.4},
      {"t":1350,"c":11.6},{"t":1355,"c":10.8},{"t":1360,"c":9.9},{"t":1365,"c":9.1},{"t":1370,"c":8.3},{"t":1375,"c":7.6},{"t":1380,"c":7},{"t":1385,"c":6.7},{"t":1390,"c":6.5},{"t":1395,"c":6.5},
      {"t":1400,"c":6.5},{"t":1405,"c":6.5},{"t":1410,"c":6.5},{"t":1415,"c":6.5},{"t":1420,"c":6.5},{"t":1425,"c":6.5},{"t":1430,"c":6.5},{"t":1435,"c":6.5},{"t":1440,"c":6.5},{"t":1445,"c":6.5},
      {"t":1450,"c":6.5},{"t":1455,"c":6.5},{"t":1460,"c":6.5},{"t":1465,"c":6.5},{"t":1470,"c":6.5},{"t":1475,"c":6.5},{"t":1480,"c":6.5},{"t":1485,"c":6.5},{"t":1490,"c":6.5},{"t":1495,"c":6.5},
      {"t":1500,"c":6.5}
    ]
  },
  "layer": [
    {
      "data": {"name": "zero"},
      "mark": {"type": "point", "shape": "square", "filled": true, "size": 110, "opacity": 1, "strokeWidth": 0},
      "encoding": {
        "x": {
          "field": "t", "type": "quantitative",
          "scale": {"domain": [0, 1500], "nice": false},
          "axis": {
            "orient": "bottom", "values": [0, 200, 400, 600, 800, 1000, 1200, 1400], "format": "d", "grid": false,
            "domainColor": "#000", "domainWidth": 3.5, "tickColor": "#000", "tickWidth": 3.5, "tickSize": -28,
            "labelPadding": 48, "labelFont": "Liberation Sans", "labelFontSize": 64, "labelColor": "#000",
            "labelFlush": false, "labelOverlap": false,
            "title": "time (sec)", "titleFont": "Liberation Sans", "titleFontSize": 63, "titleFontWeight": "normal",
            "titleColor": "#000", "titleX": 805, "titleY": 173, "titleAlign": "center", "titleBaseline": "alphabetic"
          }
        },
        "y": {
          "field": "c", "type": "quantitative",
          "scale": {"domain": [0, 250], "nice": false},
          "axis": {
            "orient": "left", "values": [0, 50, 100, 150, 200, 250], "grid": false,
            "domainColor": "#000", "domainWidth": 3.5, "tickColor": "#000", "tickWidth": 3.5, "tickSize": -30,
            "labelPadding": 73, "labelFont": "Liberation Sans", "labelFontSize": 64, "labelColor": "#000",
            "labelFlush": false, "labelOverlap": false,
            "title": "O₂ concentration (\u00a0\u00a0μM)", "titleFont": "Liberation Sans", "titleFontSize": 62, "titleFontWeight": "normal",
            "titleColor": "#000", "titleX": -240, "titleY": 545, "titleAngle": 270, "titleAlign": "center", "titleBaseline": "alphabetic"
          }
        },
        "color": {
          "datum": "0 uM", "type": "nominal",
          "scale": {"domain": ["0 uM", "10 uM", "50 uM", "100 uM"], "range": ["#e8141c", "#f39232", "#b259e0", "#276ef1"]},
          "legend": {
            "title": null, "orient": "none", "legendX": 1033, "legendY": 70, "direction": "vertical",
            "padding": 36, "strokeColor": "#000", "fillColor": "#fff", "rowPadding": 12,
            "symbolType": "square", "symbolSize": 64, "symbolOffset": 67, "symbolStrokeWidth": 0, "symbolOpacity": 1,
            "labelOffset": 82, "labelFont": "Noto Sans", "labelFontSize": 67, "labelLimit": 400,
            "encode": {
              "labels": {"update": {"fill": {"scale": "color", "field": "value"}}},
              "legend": {"update": {"strokeWidth": {"value": 3.5}}}
            }
          }
        }
      }
    },
    {
      "data": {"name": "ten"},
      "mark": {"type": "point", "shape": "square", "filled": true, "size": 110, "opacity": 1, "strokeWidth": 0},
      "encoding": {
        "x": {"field": "t", "type": "quantitative", "axis": null},
        "y": {"field": "c", "type": "quantitative", "axis": null},
        "color": {"datum": "10 uM", "type": "nominal", "legend": null}
      }
    },
    {
      "data": {"name": "fifty"},
      "mark": {"type": "point", "shape": "square", "filled": true, "size": 110, "opacity": 1, "strokeWidth": 0},
      "encoding": {
        "x": {"field": "t", "type": "quantitative", "axis": null},
        "y": {"field": "c", "type": "quantitative", "axis": null},
        "color": {"datum": "50 uM", "type": "nominal", "legend": null}
      }
    },
    {
      "data": {"name": "hundred"},
      "mark": {"type": "point", "shape": "square", "filled": true, "size": 110, "opacity": 1, "strokeWidth": 0},
      "encoding": {
        "x": {
          "field": "t", "type": "quantitative",
          "axis": {
            "orient": "top", "values": [0, 200, 400, 600, 800, 1000, 1200, 1400], "labels": false, "grid": false,
            "domainColor": "#000", "domainWidth": 3.5, "tickColor": "#000", "tickWidth": 3.5, "tickSize": -28,
            "title": "G", "titleFont": "Liberation Sans", "titleFontSize": 272, "titleFontWeight": "normal",
            "titleColor": "#000", "titleX": -452, "titleY": -81, "titleAlign": "left", "titleBaseline": "alphabetic", "titleAngle": 0
          }
        },
        "y": {
          "field": "c", "type": "quantitative",
          "axis": {
            "orient": "right", "values": [0, 50, 100, 150, 200, 250], "labels": false, "grid": false,
            "domainColor": "#000", "domainWidth": 3.5, "tickColor": "#000", "tickWidth": 3.5, "tickSize": -30,
            "title": null
          }
        },
        "color": {"datum": "100 uM", "type": "nominal", "legend": null}
      }
    }
  ]
}
